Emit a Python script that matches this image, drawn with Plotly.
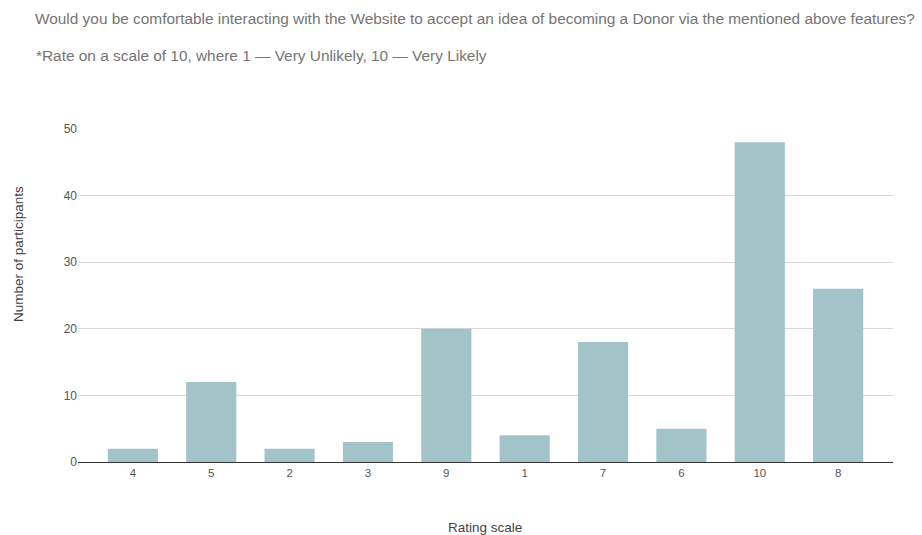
import plotly.graph_objects as go

# Survey responses: rating given -> number of participants
ratings = ["4", "5", "2", "3", "9", "1", "7", "6", "10", "8"]
participants = [2, 12, 2, 3, 20, 4, 18, 5, 48, 26]

title_text = ("Would you be comfortable interacting with the Website to accept an idea "
              "of becoming a Donor via the mentioned above features?")
subtitle_text = "*Rate on a scale of 10, where 1 \u2014 Very Unlikely, 10 \u2014 Very Likely"
x_title = "Rating scale"
y_title = "Number of participants"

bar_color = "#a2c4c9"
text_color = "#757575"
axis_text_color = "#444444"
font_family = "Liberation Sans, Arial, sans-serif"

# plot area geometry (pixels) used to place the free-standing texts
L, R, T, B = 78, 29, 129, 73
W, H = 922, 535
pw, ph = W - L - R, H - T - B


def px_x(x):
    return (x - L) / pw


def px_y(y):
    return (H - B - y) / ph


fig = go.Figure(
    go.Bar(
        x=list(range(len(ratings))),
        y=participants,
        marker=dict(color=bar_color, line=dict(width=0)),
        width=0.64,
        hoverinfo="y",
    )
)

fig.update_layout(
    width=W,
    height=H,
    margin=dict(l=L, r=R, t=T, b=B),
    paper_bgcolor="white",
    plot_bgcolor="white",
    showlegend=False,
    font=dict(family=font_family, color=text_color, size=12),
    xaxis=dict(
        tickmode="array",
        tickvals=list(range(len(ratings))),
        ticktext=ratings,
        range=[-0.70, 9.70],
        showgrid=False,
        zeroline=False,
        showline=True,
        linecolor="#333333",
        linewidth=1,
        ticks="",
        tickfont=dict(size=11.5, color="#555555"),
    ),
    yaxis=dict(
        range=[0, 50],
        tickvals=[0, 10, 20, 30, 40, 50],
        showgrid=True,
        gridcolor="#d9d9d9",
        gridwidth=1,
        zeroline=False,
        showline=False,
        ticks="",
        ticklen=0,
        tickfont=dict(size=12, color="#555555"),
    ),
    annotations=[
        dict(
            text=title_text,
            xref="paper", yref="paper",
            x=px_x(33), y=px_y(19),
            xanchor="left", yanchor="middle",
            showarrow=False,
            font=dict(size=15.4, color=text_color),
        ),
        dict(
            text=subtitle_text,
            xref="paper", yref="paper",
            x=px_x(34), y=px_y(56),
            xanchor="left", yanchor="middle",
            showarrow=False,
            font=dict(size=15.4, color=text_color),
        ),
        dict(
            text=x_title,
            xref="paper", yref="paper",
            x=px_x(485), y=px_y(527),
            xanchor="center", yanchor="middle",
            showarrow=False,
            font=dict(size=13.5, color=axis_text_color),
        ),
        dict(
            text=y_title,
            xref="paper", yref="paper",
            x=px_x(18), y=px_y(254),
            xanchor="center", yanchor="middle",
            textangle=-90,
            showarrow=False,
            font=dict(size=13.5, color=axis_text_color),
        ),
    ],
)

fig.write_html("out.html")
